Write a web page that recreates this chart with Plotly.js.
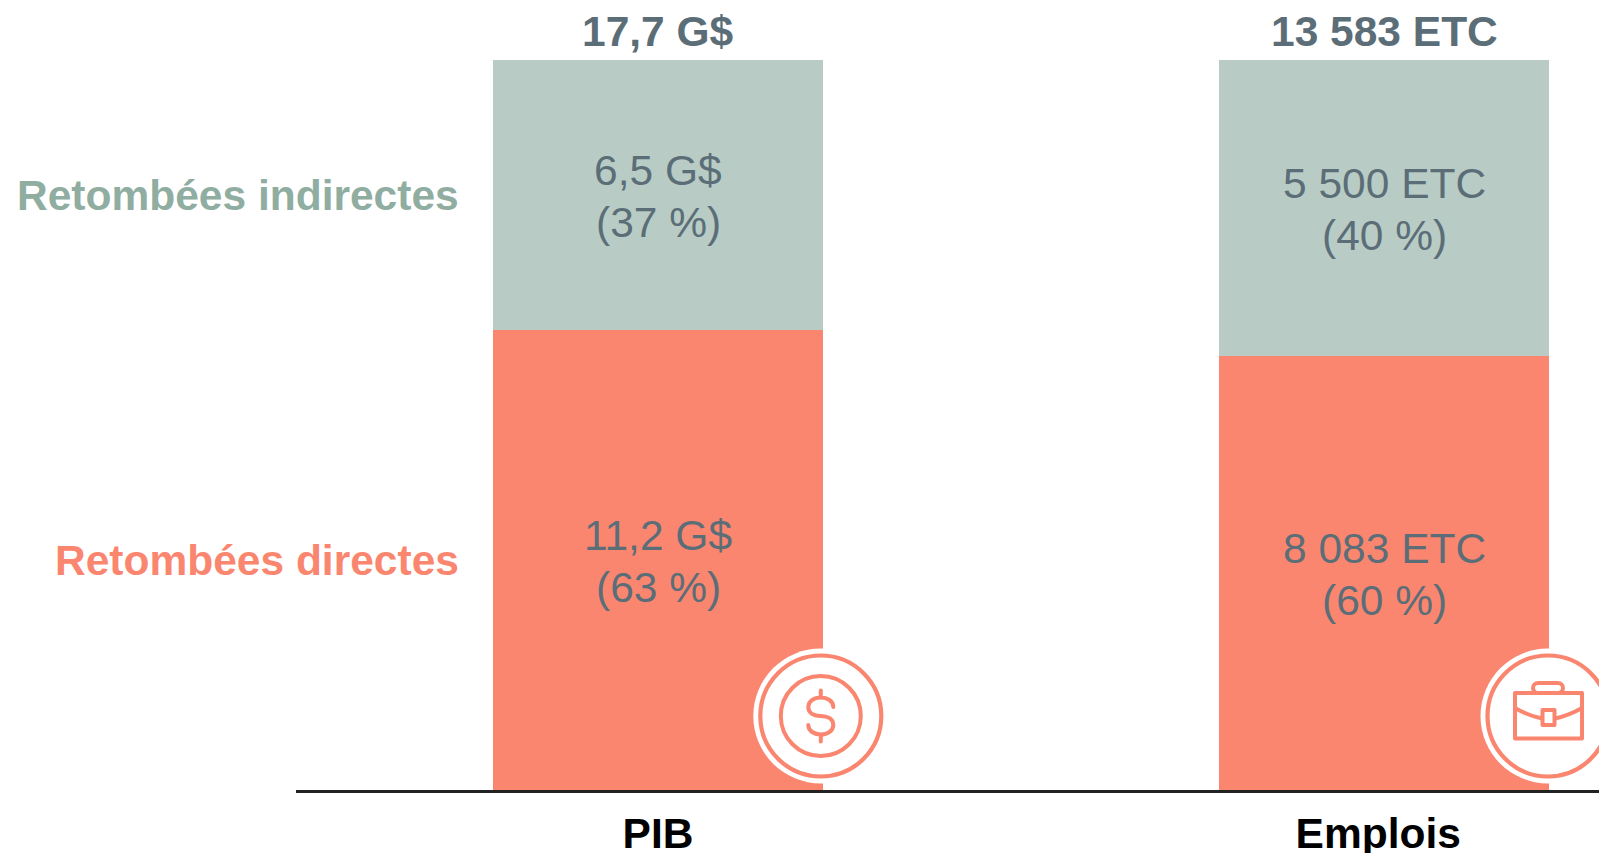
<!DOCTYPE html>
<html>
<head>
<meta charset="utf-8">
<script src="https://cdn.plot.ly/plotly-3.0.1.min.js"></script>
<style>html,body{margin:0;padding:0;background:#fff;overflow:hidden}#chart{width:1599px;height:853px}</style>
</head>
<body>
<div id="chart"></div>
<script>
const categories = ['PIB', 'Emplois'];
const barPositions = [0, 1];
const tickPositions = [0, 0.992];
const directValues = [11.16, 8083];
const indirectValues = [6.54, 5500];
const directAmounts = ['11,2 G$', '8 083 ETC'];
const directShares = ['(63 %)', '(60 %)'];
const indirectAmounts = ['6,5 G$', '5 500 ETC'];
const indirectShares = ['(37 %)', '(40 %)'];
const totalLabels = ['17,7 G$', '13 583 ETC'];
const seriesNames = ['Retombées directes', 'Retombées indirectes'];

const FONT = '"Liberation Sans", Arial, sans-serif';
const SIZE = 42.5;
const CORAL = '#FA8670', SAGE = '#B8CCC5', SAGE_TEXT = '#8FADA0', SLATE = '#5B6E78';
const W = 1599, H = 853, L = 296, T = 60, B = 63;
const plotW = W - L, plotH = H - T - B;
const LINE_OFFSET = 26, TEXT_DROP = 2;

function barTrace(name, y, color) {
  return {
    type: 'bar', name, x: barPositions, y,
    marker: {color, line: {width: 0}},
    hoverinfo: 'skip'
  };
}

function iconUri(inner) {
  const svg = '<svg xmlns="http://www.w3.org/2000/svg" width="560" height="560" viewBox="-70 -70 140 140">' +
    '<circle r="67.5" fill="#fff"/>' +
    '<circle r="60.5" fill="none" stroke="' + CORAL + '" stroke-width="4.2"/>' + inner + '</svg>';
  return 'data:image/svg+xml;base64,' + btoa(svg);
}
const stroke = 'fill="none" stroke="' + CORAL + '" stroke-width="4" stroke-linecap="round" stroke-linejoin="round"';
const dollarIcon = iconUri(
  '<circle r="40" fill="none" stroke="' + CORAL + '" stroke-width="4"/>' +
  '<path ' + stroke + ' d="M12.5,-9 C12.5,-15 6.5,-18.5 0,-18.5 C-7,-18.5 -12.5,-14.5 -12.5,-9 C-12.5,-3 -7,0 0,0 C7,0 12.5,3 12.5,9 C12.5,14.5 7,18.5 0,18.5 C-6.5,18.5 -12.5,15 -12.5,9 M0,-25.5 L0,-18.5 M0,18.5 L0,25.5"/>');
const caseIcon = iconUri(
  '<rect x="-33" y="-23" width="67" height="45.5" ' + stroke + '/>' +
  '<rect x="-15" y="-33" width="30" height="10" rx="5" ry="5" ' + stroke + '/>' +
  '<path ' + stroke + ' d="M-33,-8 Q-20,-0.5 -6,2.5 M7,2.5 Q21,-0.5 34,-8"/>' +
  '<rect x="-5.5" y="-6" width="12" height="15" ' + stroke + '/>');

function icon(source, cx, cy) {
  return {
    source, xref: 'paper', yref: 'paper', layer: 'above',
    x: (cx - L) / plotW, y: (H - B - cy) / plotH,
    sizex: 140 / plotW, sizey: 140 / plotH,
    sizing: 'stretch', xanchor: 'center', yanchor: 'middle'
  };
}

function labelAt(text, x, y, yshift, color) {
  return {
    text, x, y, yshift, xref: 'x', yref: 'y',
    xanchor: 'center', yanchor: 'middle', showarrow: false,
    font: {family: FONT, size: SIZE, color}
  };
}

const segmentAnnotations = [];
barPositions.forEach((x, i) => {
  const total = directValues[i] + indirectValues[i];
  const directMid = directValues[i] / total * 50;
  const indirectMid = (directValues[i] + indirectValues[i] / 2) / total * 100;
  segmentAnnotations.push(
    labelAt(directAmounts[i], x, directMid, LINE_OFFSET - TEXT_DROP, SLATE),
    labelAt(directShares[i], x, directMid, -LINE_OFFSET - TEXT_DROP, SLATE),
    labelAt(indirectAmounts[i], x, indirectMid, LINE_OFFSET - TEXT_DROP, SLATE),
    labelAt(indirectShares[i], x, indirectMid, -LINE_OFFSET - TEXT_DROP, SLATE)
  );
});

const totalAnnotations = totalLabels.map((t, i) => ({
  text: '<b>' + t + '</b>', x: barPositions[i], y: 100, xref: 'x', yref: 'y',
  xanchor: 'center', yanchor: 'bottom', yshift: 3, showarrow: false,
  font: {family: FONT, size: SIZE, color: SLATE}
}));
const seriesAnnotations = [
  {text: '<b>' + seriesNames[0] + '</b>', y: 31.5, color: CORAL},
  {text: '<b>' + seriesNames[1] + '</b>', y: 81.5, color: SAGE_TEXT}
].map(a => ({
  text: a.text, x: -0.2712, y: a.y, xref: 'x', yref: 'y',
  xanchor: 'right', yanchor: 'middle', showarrow: false,
  font: {family: FONT, size: SIZE, color: a.color}
}));

Plotly.newPlot('chart', [
  barTrace(seriesNames[0], directValues, CORAL),
  barTrace(seriesNames[1], indirectValues, SAGE)
], {
  width: W, height: H,
  margin: {l: L, r: 0, t: T, b: B, pad: 0},
  paper_bgcolor: '#fff', plot_bgcolor: '#fff',
  barmode: 'stack', barnorm: 'percent', bargap: 0.5455,
  showlegend: false,
  hovermode: false,
  xaxis: {
    type: 'linear', range: [-0.4986, 1.296], fixedrange: true,
    showgrid: false, zeroline: false,
    showline: true, linecolor: '#222222', linewidth: 2.5,
    tickmode: 'array', tickvals: tickPositions,
    ticktext: categories.map(c => '<b>' + c + '</b>'),
    ticks: '', ticklabelstandoff: 4,
    tickfont: {family: FONT, size: SIZE, color: '#000'}
  },
  yaxis: {range: [0, 100], visible: false, fixedrange: true},
  annotations: segmentAnnotations.concat(totalAnnotations, seriesAnnotations),
  images: [icon(dollarIcon, 820.8, 716), icon(caseIcon, 1548, 716)]
}, {displayModeBar: false, staticPlot: true});
</script>
</body>
</html>
